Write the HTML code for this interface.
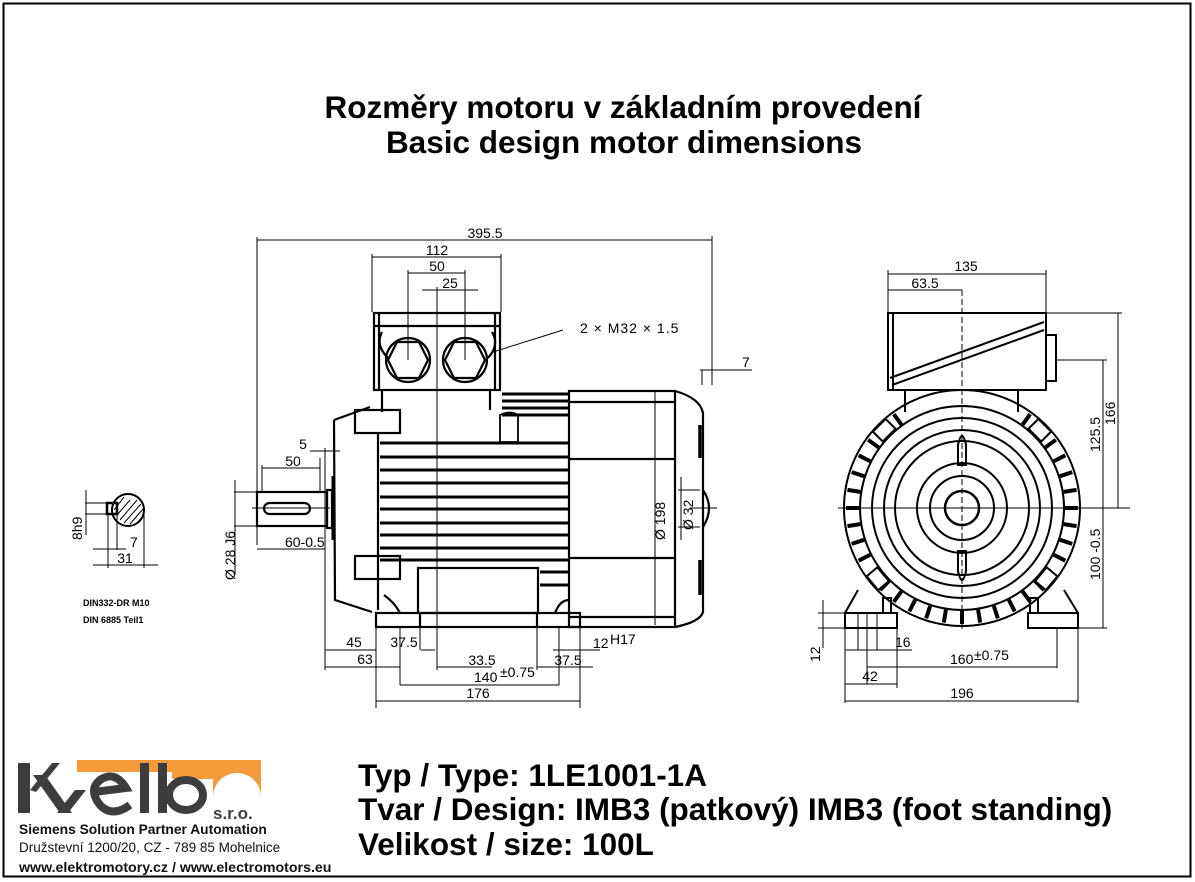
<!DOCTYPE html>
<html><head><meta charset="utf-8"><style>
html,body{margin:0;padding:0;background:#fff;width:1195px;height:882px;overflow:hidden}
svg{display:block}
text{font-family:"Liberation Sans",sans-serif}
</style></head><body>
<svg id="s" width="1195" height="882" viewBox="0 0 1195 882" xmlns="http://www.w3.org/2000/svg">
<rect x="3.5" y="3.5" width="1187" height="873" fill="none" stroke="#000" stroke-width="2"/>
<text x="623" y="118" font-size="31.5" font-weight="bold" text-anchor="middle">Rozměry motoru v základním provedení</text>
<text x="624" y="153" font-size="31.5" font-weight="bold" text-anchor="middle">Basic design motor dimensions</text>

<g fill="none" stroke="#000" stroke-width="1" font-size="14">
<line x1="257" y1="240" x2="712" y2="240"/><line x1="257" y1="237" x2="257" y2="545"/><line x1="712" y1="236" x2="712" y2="385"/>
<text x="485" y="238" stroke="none" fill="#000" text-anchor="middle">395.5</text>
<line x1="372" y1="257" x2="501" y2="257"/><line x1="372" y1="254" x2="372" y2="312"/><line x1="501" y1="254" x2="501" y2="312"/>
<text x="437" y="255" stroke="none" fill="#000" text-anchor="middle">112</text>
<line x1="408" y1="273" x2="465" y2="273"/><line x1="408" y1="270" x2="408" y2="360"/><line x1="465" y1="270" x2="465" y2="360"/>
<text x="437" y="271" stroke="none" fill="#000" text-anchor="middle">50</text>
<line x1="422" y1="290" x2="478" y2="290"/>
<text x="450" y="288" stroke="none" fill="#000" text-anchor="middle">25</text>
<line x1="437" y1="287" x2="437" y2="670"/>
<line x1="493" y1="352" x2="563" y2="330"/>
<text x="580" y="333" stroke="none" fill="#000" letter-spacing="1">2 × M32 × 1.5</text>
<line x1="700" y1="370" x2="735" y2="370"/><line x1="702" y1="370" x2="702" y2="385"/><line x1="712" y1="370" x2="752" y2="370"/>
<text x="742" y="367" stroke="none" fill="#000">7</text>
<line x1="262" y1="468" x2="320" y2="468"/><line x1="262" y1="465" x2="262" y2="492"/><line x1="320" y1="458" x2="320" y2="492"/><line x1="325" y1="448" x2="325" y2="670"/>
<text x="293" y="466" stroke="none" fill="#000" text-anchor="middle">50</text>
<line x1="310" y1="451" x2="340" y2="451"/>
<text x="303" y="449" stroke="none" fill="#000" text-anchor="middle">5</text>
<line x1="257" y1="549" x2="325" y2="549"/>
<text x="285" y="547" stroke="none" fill="#000">60-0.5</text>
<line x1="234" y1="492" x2="260" y2="492"/><line x1="234" y1="526" x2="260" y2="526"/><line x1="235" y1="480" x2="235" y2="575"/>
<text x="0" y="0" stroke="none" fill="#000" transform="translate(235,580) rotate(-90)">Ø 28 J6</text>
<line x1="252" y1="508" x2="330" y2="508"/>
<line x1="325" y1="650" x2="376" y2="650"/><text x="354" y="647" stroke="none" fill="#000" text-anchor="middle">45</text>
<line x1="325" y1="667" x2="400" y2="667"/><text x="365" y="664" stroke="none" fill="#000" text-anchor="middle">63</text>
<line x1="376" y1="627" x2="376" y2="708"/><line x1="580" y1="627" x2="580" y2="708"/>
<line x1="420" y1="627" x2="420" y2="650"/><line x1="421" y1="650" x2="435" y2="650"/>
<text x="404" y="647" stroke="none" fill="#000" text-anchor="middle">37.5</text>
<line x1="400" y1="627" x2="400" y2="685"/><line x1="559" y1="627" x2="559" y2="685"/>
<line x1="437" y1="667" x2="492" y2="667"/><text x="482" y="665" stroke="none" fill="#000" text-anchor="middle">33.5</text>
<line x1="537" y1="667" x2="593" y2="667"/><text x="568" y="665" stroke="none" fill="#000" text-anchor="middle">37.5</text>
<line x1="537" y1="627" x2="537" y2="670"/>
<line x1="553" y1="650" x2="600" y2="650"/><text x="593" y="648" stroke="none" fill="#000">12</text><text x="610" y="644" stroke="none" fill="#000">H17</text>
<line x1="400" y1="685" x2="559" y2="685"/><text x="474" y="682" stroke="none" fill="#000">140</text><text x="500" y="677" stroke="none" fill="#000">±0.75</text>
<line x1="376" y1="701" x2="580" y2="701"/><text x="478" y="698" stroke="none" fill="#000" text-anchor="middle">176</text>
<text x="0" y="0" stroke="none" fill="#000" transform="translate(665,540) rotate(-90)">Ø 198</text>
<line x1="655" y1="392" x2="655" y2="625"/>
<text x="0" y="0" stroke="none" fill="#000" transform="translate(693,530) rotate(-90)">Ø 32</text>
<line x1="681" y1="477" x2="681" y2="540"/><line x1="678" y1="490" x2="700" y2="490"/><line x1="678" y1="527" x2="700" y2="527"/>
<line x1="690" y1="508" x2="717" y2="508"/>
</g>

<g fill="none" stroke="#000" stroke-width="2.2">
<rect x="374" y="313" width="126" height="77"/>
<line x1="374" y1="326" x2="500" y2="326"/>
<line x1="379" y1="313" x2="379" y2="390"/><line x1="495" y1="313" x2="495" y2="390"/>
<circle cx="408" cy="360" r="22"/><circle cx="465" cy="360" r="22"/>
<polygon points="397,342 419,342 428,360 419,378 397,378 388,360"/>
<polygon points="454,342 476,342 485,360 476,378 454,378 445,360"/>
<path d="M382,332 Q375,345 388,358 M492,332 Q500,345 488,358"/>
<line x1="382" y1="390" x2="382" y2="412"/><line x1="490" y1="390" x2="490" y2="410"/>
<path d="M334,420 L335,600 L372,612 M334,420 L370,407"/>
<rect x="355" y="410" width="45" height="23"/><rect x="355" y="556" width="45" height="23"/>
<line x1="378" y1="433" x2="378" y2="610"/>
<rect x="257" y="492" width="70" height="34"/>
<rect x="264" y="503" width="46" height="11" rx="5.5"/>
<rect x="327" y="490" width="5" height="38"/>
<line x1="333" y1="476" x2="333" y2="540" stroke-width="3"/>
<rect x="569" y="391" width="106" height="236"/>
<line x1="569" y1="402" x2="675" y2="402"/><line x1="569" y1="459" x2="675" y2="459"/>
<line x1="569" y1="558" x2="675" y2="558"/><line x1="569" y1="617" x2="675" y2="617"/>
<path d="M675,391 Q700,398 703,413 L703,612 Q700,622 675,627"/>
<line x1="700" y1="425" x2="700" y2="458" stroke-width="3.5"/>
<line x1="700" y1="560" x2="700" y2="595" stroke-width="3.5"/>
<path d="M703,490 Q715,508 703,527"/>
<rect x="376" y="613" width="204" height="14"/>
<line x1="420" y1="613" x2="420" y2="627"/><line x1="537" y1="613" x2="537" y2="627"/>
<rect x="418" y="568" width="120" height="45"/>
<path d="M500,415 Q510,410 518,415 L518,442 L500,442 Z" stroke-width="1.8"/>
<path d="M384,595 Q395,603 400,613 M555,613 Q560,600 569,600"/>
</g>
<g stroke="#000" stroke-width="3">
<line x1="380" y1="443" x2="569" y2="443"/><line x1="380" y1="457" x2="569" y2="457"/>
<line x1="380" y1="470" x2="569" y2="470"/><line x1="380" y1="483" x2="569" y2="483"/>
<line x1="380" y1="497" x2="569" y2="497"/><line x1="380" y1="509" x2="569" y2="509"/>
<line x1="380" y1="523" x2="569" y2="523"/><line x1="380" y1="535" x2="569" y2="535"/>
<line x1="380" y1="548" x2="569" y2="548"/><line x1="380" y1="560" x2="569" y2="560"/>
<line x1="502" y1="394" x2="569" y2="394"/><line x1="502" y1="401" x2="569" y2="401"/>
<line x1="502" y1="408" x2="569" y2="408"/><line x1="502" y1="415" x2="569" y2="415"/>
<line x1="540" y1="572" x2="569" y2="572"/><line x1="540" y1="585" x2="569" y2="585"/>
</g>

<g id="ev" fill="none" stroke="#000" stroke-width="2">
<rect x="888" y="313" width="158" height="77"/>
<line x1="893" y1="313" x2="893" y2="390"/>
<line x1="890" y1="378" x2="1044" y2="322"/><line x1="892" y1="385" x2="1044" y2="330"/>
<rect x="1046" y="335" width="10" height="46"/>
<line x1="905" y1="390" x2="905" y2="412"/><line x1="1018" y1="390" x2="1018" y2="412"/>
<circle cx="962" cy="508" r="118"/>
<circle cx="962" cy="508" r="102"/><circle cx="962" cy="508" r="90"/><circle cx="962" cy="508" r="78"/>
<circle cx="962" cy="508" r="67"/><circle cx="962" cy="508" r="45"/><circle cx="962" cy="508" r="32"/>
<circle cx="962" cy="508" r="17" stroke-width="2.5"/>
<path d="M958,465 L958,445 Q962,427 966,445 L966,465 Z"/>
<path d="M958,551 L958,571 Q962,589 966,571 L966,551 Z"/>
<path d="M858,590 L845,613 M1064,590 L1078,613"/>
<rect x="845" y="613" width="52" height="15"/><rect x="1028" y="613" width="50" height="15"/>
<rect x="883" y="598" width="8" height="15"/><rect x="1030" y="598" width="8" height="15"/>
</g>
<g stroke="#000" stroke-width="1" fill="none" font-size="14">
<line x1="962" y1="290" x2="962" y2="632" stroke-dasharray="6,3"/>
<line x1="838" y1="508" x2="1130" y2="508"/>
<line x1="888" y1="274" x2="1046" y2="274"/><line x1="888" y1="270" x2="888" y2="313"/><line x1="1046" y1="270" x2="1046" y2="313"/>
<text x="966" y="271" stroke="none" fill="#000" text-anchor="middle">135</text>
<line x1="888" y1="290" x2="962" y2="290"/>
<text x="925" y="288" stroke="none" fill="#000" text-anchor="middle">63.5</text>
<line x1="1046" y1="313" x2="1122" y2="313"/><line x1="1118" y1="313" x2="1118" y2="508"/>
<text x="0" y="0" stroke="none" fill="#000" transform="translate(1115,425) rotate(-90)">166</text>
<line x1="1056" y1="360" x2="1107" y2="360"/><line x1="1103" y1="360" x2="1103" y2="628"/>
<text x="0" y="0" stroke="none" fill="#000" transform="translate(1100,452) rotate(-90)">125.5</text>
<text x="0" y="0" stroke="none" fill="#000" transform="translate(1100,580) rotate(-90)">100 -0.5</text>
<line x1="1078" y1="628" x2="1107" y2="628"/>
<line x1="818" y1="613" x2="845" y2="613"/><line x1="818" y1="628" x2="845" y2="628"/><line x1="823" y1="600" x2="823" y2="648"/>
<text x="0" y="0" stroke="none" fill="#000" transform="translate(820,662) rotate(-90)">12</text>
<line x1="858" y1="613" x2="858" y2="650"/><line x1="867" y1="613" x2="867" y2="684"/><line x1="877" y1="613" x2="877" y2="650"/>
<line x1="845" y1="628" x2="845" y2="703"/><line x1="897" y1="628" x2="897" y2="688"/><line x1="1057" y1="628" x2="1057" y2="668"/><line x1="1078" y1="628" x2="1078" y2="703"/>
<line x1="845" y1="650" x2="912" y2="650"/><text x="895" y="647" stroke="none" fill="#000">16</text>
<line x1="867" y1="667" x2="1057" y2="667"/><text x="950" y="664" stroke="none" fill="#000">160</text><text x="974" y="660" stroke="none" fill="#000">±0.75</text>
<line x1="845" y1="684" x2="897" y2="684"/><text x="870" y="681" stroke="none" fill="#000" text-anchor="middle">42</text>
<line x1="845" y1="701" x2="1078" y2="701"/><text x="962" y="698" stroke="none" fill="#000" text-anchor="middle">196</text>
</g>

<g stroke="#000" fill="none" stroke-width="1">
<circle cx="128" cy="510" r="16" stroke-width="2"/>
<line x1="117" y1="515" x2="130" y2="500"/><line x1="120" y1="520" x2="137" y2="500"/><line x1="124" y1="523" x2="141" y2="504"/><line x1="130" y1="524" x2="143" y2="509"/><line x1="136" y1="524" x2="144" y2="515"/><line x1="114" y1="510" x2="124" y2="497"/>
<rect x="107" y="503" width="10" height="11" stroke-width="2.5"/>
<line x1="85" y1="503" x2="107" y2="503"/><line x1="85" y1="514" x2="107" y2="514"/><line x1="86" y1="490" x2="86" y2="535"/>
<text x="0" y="0" stroke="none" fill="#000" font-size="14" transform="translate(82,540) rotate(-90)">8h9</text>
<line x1="108" y1="514" x2="108" y2="568"/><line x1="117" y1="514" x2="117" y2="550"/><line x1="144" y1="512" x2="144" y2="568"/>
<line x1="93" y1="549" x2="126" y2="549"/><text x="130" y="547" stroke="none" fill="#000" font-size="14">7</text>
<line x1="93" y1="565" x2="158" y2="565"/><text x="125" y="563" stroke="none" fill="#000" font-size="14" text-anchor="middle">31</text>
</g>
<text x="83" y="606" font-size="9" font-weight="bold" font-family="Liberation Mono">DIN332-DR M10</text>
<text x="83" y="623" font-size="9" font-weight="bold" font-family="Liberation Mono">DIN 6885 Teil1</text>

<path d="M77,760 L261,760 L261,797 A24,24 0 0 0 213,797 L213,779 L172,779 L172,772 L77,772 Z" fill="#f59a3a"/>
<g fill="#3d3d3f">
<rect x="18" y="763" width="12" height="50"/>
<polygon points="30,790 52,763 60,763 36,792"/>
<polygon points="33,775 45,775 72,813 60,813"/>
<polygon points="57,813 75,790 86,790 68,813"/>
<rect x="140" y="763" width="9" height="50"/><rect x="158" y="763" width="9" height="50"/>
</g>
<g fill="none" stroke="#3d3d3f" stroke-width="8">
<path d="M130,805 Q112,818 100,805 Q88,790 100,780 Q115,770 126,788 L94,792"/>
<ellipse cx="186" cy="795" rx="17" ry="15"/>
</g>
<text x="213" y="819" font-size="17" font-weight="bold" fill="#3d3d3f">s.r.o.</text>
<text x="19" y="834" font-size="13.8" font-weight="bold" fill="#111">Siemens Solution Partner Automation</text>
<text x="19" y="852" font-size="13.5" fill="#111">Družstevní 1200/20, CZ - 789 85 Mohelnice</text>
<text x="19" y="872" font-size="14.2" font-weight="bold" fill="#111">www.elektromotory.cz / www.electromotors.eu</text>

<text x="358" y="786" font-size="31.5" font-weight="bold">Typ / Type: 1LE1001-1A</text>
<text x="358" y="820" font-size="31.5" font-weight="bold">Tvar / Design: IMB3 (patkový) IMB3 (foot standing)</text>
<text x="358" y="855" font-size="31.5" font-weight="bold">Velikost / size: 100L</text>
</svg>
<script>
(function(){var s=document.getElementById('s'),ns='http://www.w3.org/2000/svg',cx=962,cy=508;
for(var a=0;a<360;a+=9){var r=a*Math.PI/180;if(a>240&&a<300)continue;
var l=document.createElementNS(ns,'line');
l.setAttribute('x1',cx+103*Math.cos(r));l.setAttribute('y1',cy+103*Math.sin(r));
l.setAttribute('x2',cx+116*Math.cos(r));l.setAttribute('y2',cy+116*Math.sin(r));
l.setAttribute('stroke','#000');l.setAttribute('stroke-width','4');s.appendChild(l);}
for(var a2 of [225,315,140,40]){var r2=a2*Math.PI/180;var g=document.createElementNS(ns,'rect');
g.setAttribute('x',-9);g.setAttribute('y',-7);g.setAttribute('width',18);g.setAttribute('height',14);
g.setAttribute('fill','#fff');g.setAttribute('stroke','#000');g.setAttribute('stroke-width','2');
g.setAttribute('transform','translate('+(cx+110*Math.cos(r2))+','+(cy+110*Math.sin(r2))+') rotate('+(a2+90)+')');s.appendChild(g);}
})();
</script>
</body></html>
